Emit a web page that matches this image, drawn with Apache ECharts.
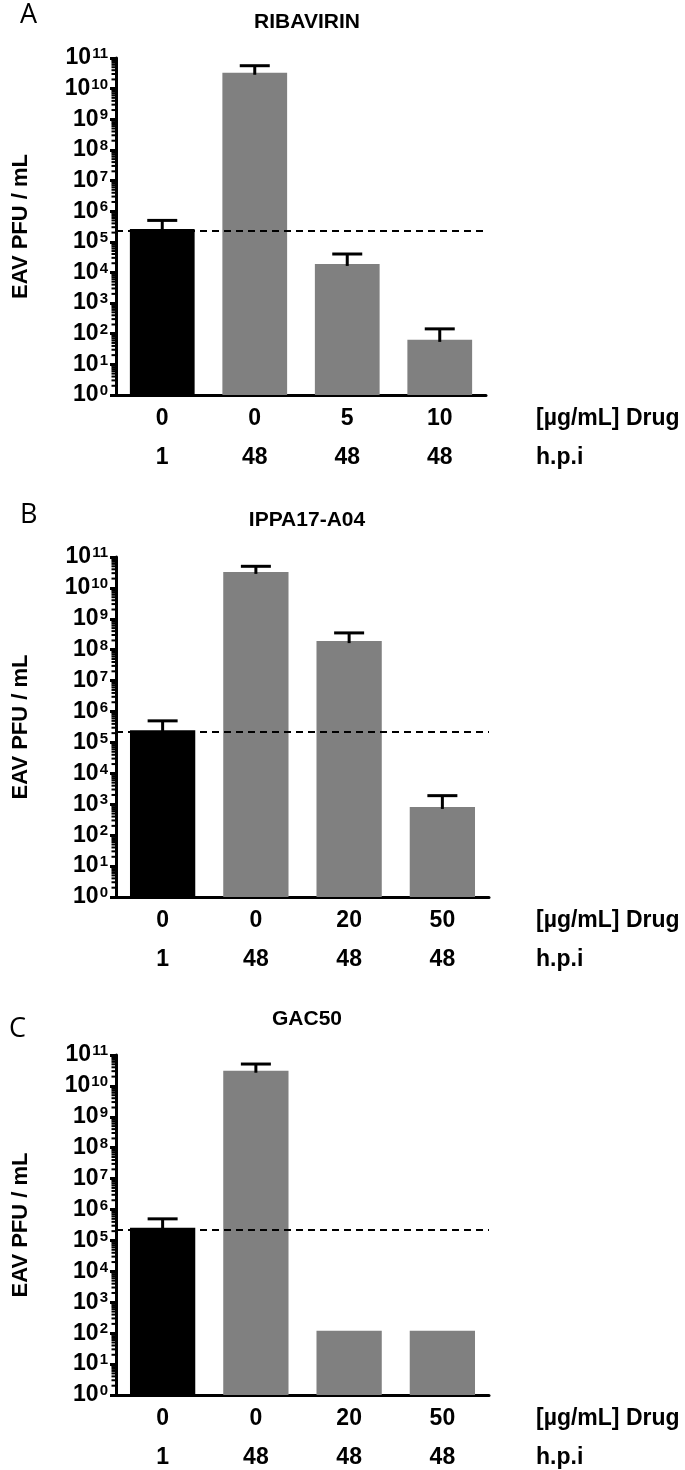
<!DOCTYPE html>
<html>
<head>
<meta charset="utf-8">
<script src="https://cdn.jsdelivr.net/npm/echarts@6/dist/echarts.min.js"></script>
<style>
html,body{margin:0;padding:0;background:#fff;}
#chart{width:685px;height:1470px;}
</style>
</head>
<body>
<div id="chart"></div>
<script>
// ---- data ----
const panelLetters = ['A', 'B', 'C'];
const panelTitles = ['RIBAVIRIN', 'IPPA17-A04', 'GAC50'];
const drugA = ['0', '0', '5', '10'];
const drugB = ['0', '0', '20', '50'];
const drugC = ['0', '0', '20', '50'];
const hpi = ['1', '48', '48', '48'];
const valuesA = [2.6e5, 3.3e10, 1.9e4, 63];
const errTopA = [5.0e5, 5.6e10, 4.0e4, 144];
const valuesB = [2.5e5, 3.3e10, 1.9e8, 820];
const errTopB = [5.0e5, 5.0e10, 3.5e8, 1.9e3];
const valuesC = [2.6e5, 3.1e10, 120, 120];
const errTopC = [5.0e5, 5.1e10, null, null];
const referenceLevel = 2.3e5;
const yMin = 1, yMax = 1e11;
const decadeExponents = [0, 1, 2, 3, 4, 5, 6, 7, 8, 9, 10];
const minorMultipliers = [2, 3, 4, 5, 6, 7, 8, 9];
const drugAxisLabel = '[\u00b5g/mL] Drug';
const hpiAxisLabel = 'h.p.i';
const yAxisTitle = 'EAV PFU / mL';

// ---- layout ----
const FONT = '"Liberation Sans", Arial, sans-serif';
const panels = [
  {drug: drugA, vals: valuesA, err: errTopA, top: 58, height: 337, left: 116, width: 370, titleTop: 7, letterY: 17, letterX: 20},
  {drug: drugB, vals: valuesB, err: errTopB, top: 557, height: 340, left: 116, width: 373, titleTop: 505, letterY: 517, letterX: 20},
  {drug: drugC, vals: valuesC, err: errTopC, top: 1055, height: 340, left: 116, width: 373, titleTop: 1004, letterY: 1031, letterX: 9}
];

const chart = echarts.init(document.getElementById('chart'), null, {renderer: 'canvas'});

const grids = [], xAxes = [], yAxes = [], series = [], titles = [], graphics = [];

function supLabel(v) {
  const e = Math.round(Math.log10(v));
  return '{b|10}{s|' + e + '}';
}

// minor tick positions (axis decoration, 2..9 x each decade)
const minorTickValues = [];
decadeExponents.forEach(e => minorMultipliers.forEach(m => minorTickValues.push(m * Math.pow(10, e))));

panels.forEach((p, i) => {
  grids.push({left: p.left, top: p.top, width: p.width, height: p.height, containLabel: false});
  xAxes.push({
    type: 'category', gridIndex: i, data: p.drug, position: 'bottom',
    axisLine: {lineStyle: {color: '#000', width: 3}},
    axisTick: {alignWithLabel: true, length: 7, lineStyle: {color: '#000', width: 3}},
    axisLabel: {color: '#000', fontFamily: FONT, fontWeight: 'bold', fontSize: 23, margin: 12}
  });
  xAxes.push({
    type: 'category', gridIndex: i, data: hpi, position: 'bottom', offset: 39,
    axisLine: {show: false}, axisTick: {show: false},
    axisLabel: {color: '#000', fontFamily: FONT, fontWeight: 'bold', fontSize: 23, margin: 12}
  });
  yAxes.push({
    type: 'log', logBase: 10, gridIndex: i, min: yMin, max: yMax, interval: 1, splitNumber: 11,
    name: yAxisTitle, nameLocation: 'middle', nameGap: 84,
    nameTextStyle: {color: '#000', fontFamily: FONT, fontWeight: 'bold', fontSize: 22},
    splitLine: {show: false},
    axisLine: {show: true, lineStyle: {color: '#000', width: 3}},
    axisTick: {show: true, length: 6, lineStyle: {color: '#000', width: 3}},
    minorTick: {show: false},
    axisLabel: {
      color: '#000', margin: 8, formatter: supLabel,
      rich: {
        b: {fontFamily: FONT, fontWeight: 'bold', fontSize: 23, color: '#000', lineHeight: 23},
        s: {fontFamily: FONT, fontWeight: 'bold', fontSize: 15, color: '#000', verticalAlign: 'top', padding: [0, 0, 9, 1], lineHeight: 15}
      }
    }
  });
  // dashed reference line (behind bars)
  series.push({
    type: 'line', xAxisIndex: 2 * i, yAxisIndex: i, data: [], z: 1, silent: true,
    markLine: {
      symbol: 'none', silent: true, label: {show: false},
      lineStyle: {color: '#000', width: 2, type: [7, 5]},
      data: [{yAxis: referenceLevel}]
    }
  });
  // minor ticks on the y axis
  series.push({
    type: 'custom', xAxisIndex: 2 * i, yAxisIndex: i, z: 4, silent: true,
    data: minorTickValues.map(v => [0, v]),
    renderItem: function (params, api) {
      const pt = api.coord([0, api.value(1)]);
      const x0 = params.coordSys.x;
      return {type: 'line', shape: {x1: x0 - 4.5, y1: pt[1], x2: x0, y2: pt[1]}, style: {stroke: '#000', lineWidth: 2}};
    },
    animation: false
  });
  series.push({
    type: 'bar', xAxisIndex: 2 * i, yAxisIndex: i, z: 2,
    barWidth: '70%',
    data: p.vals.map((v, k) => ({value: v, itemStyle: {color: k === 0 ? '#000000' : '#808080'}})),
    animation: false
  });
  series.push({
    type: 'custom', xAxisIndex: 2 * i, yAxisIndex: i, z: 3,
    data: p.vals.map((v, k) => [k, v, p.err[k]]).filter(d => d[2] != null),
    renderItem: function (params, api) {
      const x = api.value(0);
      const p0 = api.coord([x, api.value(1)]);
      const p1 = api.coord([x, api.value(2)]);
      const half = 15;
      return {
        type: 'group',
        children: [
          {type: 'line', shape: {x1: p0[0], y1: p0[1] + 2, x2: p1[0], y2: p1[1]}, style: {stroke: '#000', lineWidth: 3}},
          {type: 'line', shape: {x1: p1[0] - half, y1: p1[1], x2: p1[0] + half, y2: p1[1]}, style: {stroke: '#000', lineWidth: 3}}
        ]
      };
    },
    animation: false
  });
  titles.push({
    text: panelTitles[i], left: 302, top: p.titleTop, textAlign: 'center',
    textStyle: {fontFamily: FONT, fontWeight: 'bold', fontSize: 21, color: '#000'}
  });
  graphics.push({
    type: 'text', left: p.letterX, top: p.letterY - 15,
    style: {text: panelLetters[i], font: '400 27px "Open Sans", "Noto Sans", sans-serif', fill: '#000'}
  });
  const axisY = p.top + p.height;
  graphics.push({
    type: 'text', x: 536, y: axisY + 24,
    style: {text: drugAxisLabel, font: 'bold 23px ' + FONT, fill: '#000', textVerticalAlign: 'middle'}
  });
  graphics.push({
    type: 'text', x: 536, y: axisY + 63,
    style: {text: hpiAxisLabel, font: 'bold 23px ' + FONT, fill: '#000', textVerticalAlign: 'middle'}
  });
});

chart.setOption({
  animation: false,
  backgroundColor: '#fff',
  title: titles,
  grid: grids,
  xAxis: xAxes,
  yAxis: yAxes,
  series: series,
  graphic: graphics
});
</script>
</body>
</html>
